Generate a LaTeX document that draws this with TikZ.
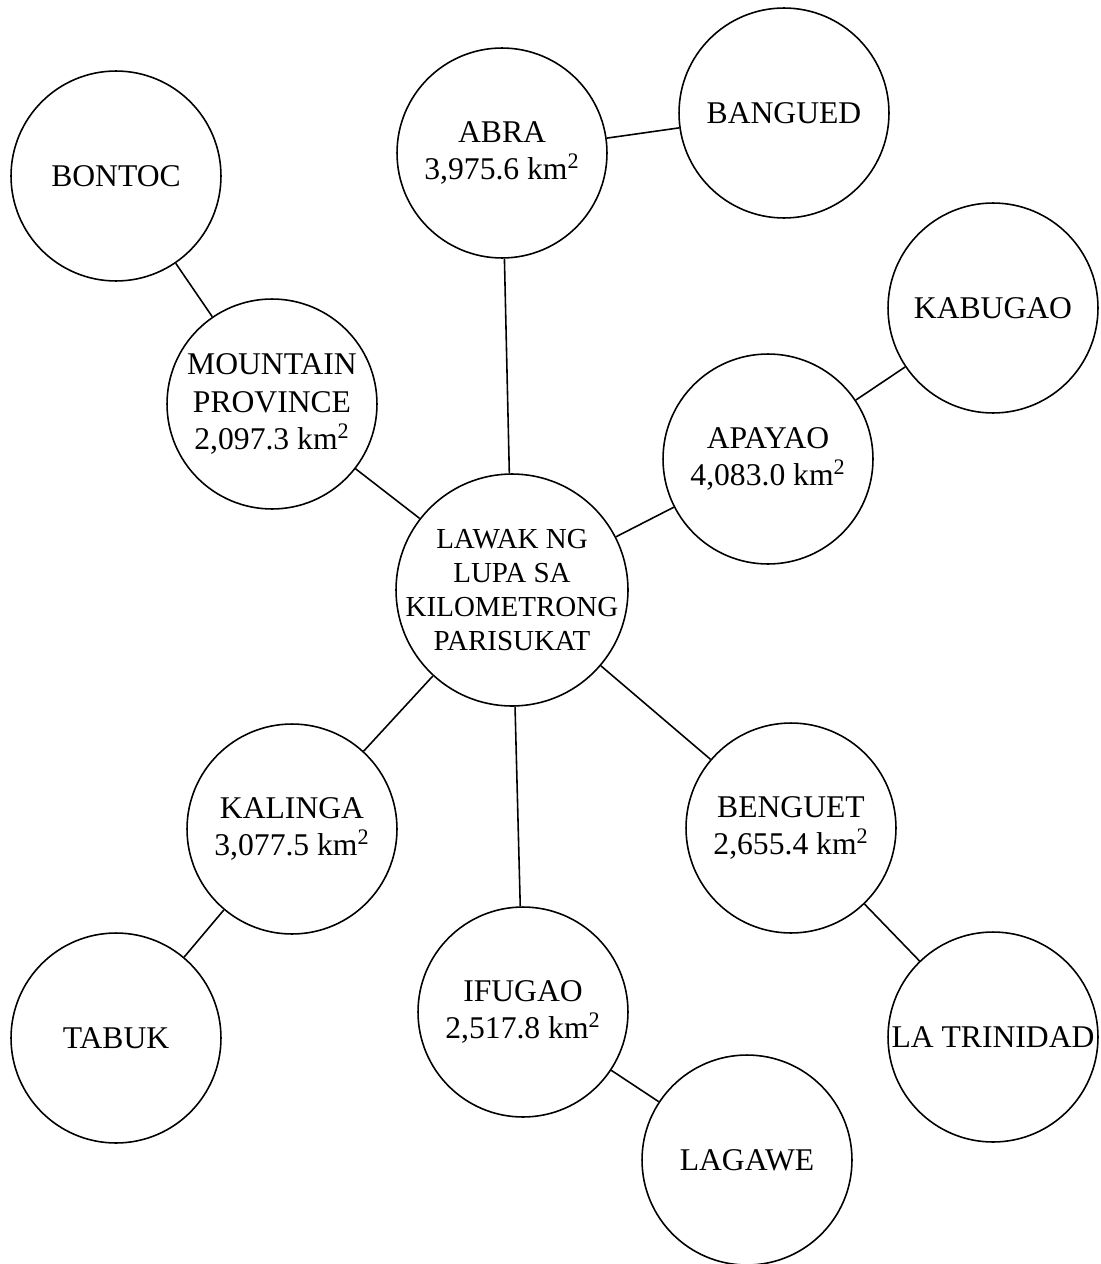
\documentclass[tikz,border=0pt]{standalone}
\usepackage{fontspec}
\setmainfont{Liberation Serif}

\begin{document}
\begin{tikzpicture}[x=0.02cm, y=-0.02cm,
        bubble/.style={circle, draw, line width=0.9pt, minimum size=4.2cm, inner sep=-1cm, align=center, font=\fontsize{18}{21.2}\selectfont},
        hub/.style={bubble, minimum size=4.64cm, font=\fontsize{16.5}{19.2}\selectfont},
        link/.style={line width=0.9pt},
    ]
        \useasboundingbox (0,0) rectangle (1101,1264);

        % Centre
        \node[hub] (lawak) at (512, 590) {LAWAK NG\\LUPA SA\\KILOMETRONG\\PARISUKAT};

        % Provinces
        \node[bubble] (abra) at (502, 153) {ABRA\\3,975.6 km\textsuperscript{2}};
        \node[bubble] (mtprov) at (272, 404) {MOUNTAIN\\PROVINCE\\2,097.3 km\textsuperscript{2}};
        \node[bubble] (apayao) at (768, 459) {APAYAO\\4,083.0 km\textsuperscript{2}};
        \node[bubble] (kalinga) at (292, 829) {KALINGA\\3,077.5 km\textsuperscript{2}};
        \node[bubble] (ifugao) at (523, 1012) {IFUGAO\\2,517.8 km\textsuperscript{2}};
        \node[bubble] (benguet) at (791, 828) {BENGUET\\2,655.4 km\textsuperscript{2}};

        % Capitals
        \node[bubble] (bangued) at (784, 113) {BANGUED};
        \node[bubble] (bontoc) at (116, 176) {BONTOC};
        \node[bubble] (kabugao) at (993, 308) {KABUGAO};
        \node[bubble] (tabuk) at (116, 1038) {TABUK};
        \node[bubble] (lagawe) at (747, 1160) {LAGAWE};
        \node[bubble] (latrinidad) at (993, 1037) {LA TRINIDAD};

        % Links
        \draw[link] (lawak) -- (abra);
        \draw[link] (lawak) -- (mtprov);
        \draw[link] (lawak) -- (apayao);
        \draw[link] (lawak) -- (kalinga);
        \draw[link] (lawak) -- (ifugao);
        \draw[link] (lawak) -- (benguet);
        \draw[link] (abra) -- (bangued);
        \draw[link] (mtprov) -- (bontoc);
        \draw[link] (apayao) -- (kabugao);
        \draw[link] (kalinga) -- (tabuk);
        \draw[link] (ifugao) -- (lagawe);
        \draw[link] (benguet) -- (latrinidad);
    \end{tikzpicture}
\end{document}
